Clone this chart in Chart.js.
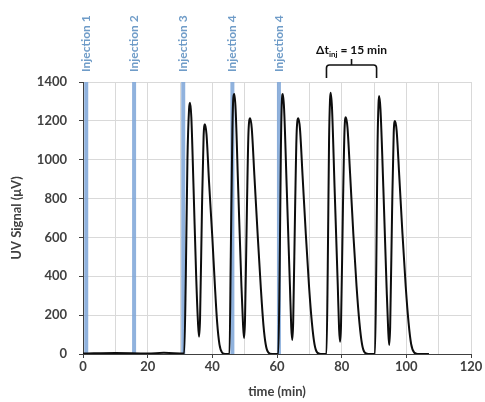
<!DOCTYPE html>
<html>
<head>
<meta charset="utf-8">
<script src="https://cdn.jsdelivr.net/npm/chart.js@4"></script>
<style>
    html, body { margin: 0; padding: 0; background: #fff; }
    #wrap { width: 485px; height: 402px; }
</style>
</head>
<body>
<div id="wrap"><canvas id="uvChart" width="485" height="402"></canvas></div>
<script>
// signal: time (min) and UV signal (uV)
const signalTime = [
    0, 10, 20, 25, 31.3,
    31.8, 32.3, 32.8, 33.1, 33.5, 34.2, 35.0, 35.6, 35.9, 36.2, 36.8, 37.3, 37.7, 38.2, 39.0, 40.0, 40.8, 41.5, 42.2, 43.0, 44.0,
    45.3, 45.7, 46.2, 46.5, 46.8, 47.2, 48.0, 49.0, 49.5, 49.8, 50.1, 50.7, 51.2, 51.7, 52.2, 53.0, 54.0, 55.0, 55.8, 56.5, 57.3, 58.5,
    60.4, 60.8, 61.2, 61.5, 61.8, 62.2, 63.0, 64.0, 64.4, 64.7, 65.0, 65.6, 66.1, 66.6, 67.1, 67.9, 68.9, 69.9, 70.8, 71.6, 72.4, 73.5,
    75.3, 75.7, 76.1, 76.4, 76.6, 77.0, 77.8, 78.8, 79.2, 79.5, 79.8, 80.4, 80.9, 81.3, 81.8, 82.6, 83.6, 84.6, 85.5, 86.3, 87.1, 88.2,
    90.3, 90.7, 91.1, 91.4, 91.6, 92.0, 92.9, 93.9, 94.4, 94.7, 95.0, 95.6, 96.1, 96.5, 97.0, 97.8, 98.8, 99.8, 100.7, 101.5, 102.4, 103.5, 107
];
const signalUV = [
    2, 5, 3, 6, 2,
    400, 1000, 1260, 1293, 1220, 850, 400, 150, 89, 180, 750, 1120, 1182, 1130, 880, 600, 350, 160, 50, 8, 0,
    0, 500, 1150, 1320, 1338, 1260, 850, 350, 150, 82, 170, 750, 1150, 1213, 1160, 920, 620, 340, 150, 50, 8, 0,
    0, 400, 1050, 1300, 1338, 1260, 860, 350, 140, 72, 160, 750, 1150, 1213, 1160, 920, 620, 350, 160, 50, 8, 0,
    0, 450, 1100, 1310, 1345, 1270, 860, 350, 130, 63, 150, 760, 1160, 1218, 1165, 930, 620, 350, 160, 50, 8, 0,
    0, 450, 1080, 1290, 1328, 1260, 850, 340, 120, 46, 140, 740, 1140, 1199, 1150, 920, 620, 350, 160, 50, 8, 0, 0
];

const injectionTimes = [1, 15.8, 31, 46.2, 60.6];
const injectionLabels = ['Injection 1', 'Injection 2', 'Injection 3', 'Injection 4', 'Injection 4'];

const bracketFrom = 75.3;
const bracketTo = 90.8;

const xTicks = [0, 20, 40, 60, 80, 100, 120];
const yTicks = [0, 200, 400, 600, 800, 1000, 1200, 1400];

const FONT = 'Lato, "Open Sans", sans-serif';

const overlayPlugin = {
    id: 'overlay',
    afterDatasetsDraw(chart) {
        const { ctx, chartArea } = chart;
        const xs = chart.scales.x;
        ctx.save();

        // injection labels, rotated
        ctx.fillStyle = '#6f9cc8';
        ctx.font = 'bold 12px ' + FONT;
        ctx.textAlign = 'left';
        ctx.textBaseline = 'middle';
        injectionTimes.forEach((t, i) => {
            ctx.save();
            ctx.translate(xs.getPixelForValue(t), chartArea.top - 10);
            ctx.rotate(-Math.PI / 2);
            ctx.fillText(injectionLabels[i], 0, 0);
            ctx.restore();
        });

        // bracket
        const x1 = xs.getPixelForValue(bracketFrom);
        const x2 = xs.getPixelForValue(bracketTo);
        const xm = (x1 + x2) / 2;
        const yb = chartArea.top - 4;
        const yt = chartArea.top - 17;
        const r = 3;
        ctx.strokeStyle = '#111';
        ctx.lineWidth = 1.6;
        ctx.beginPath();
        ctx.moveTo(x1, yb);
        ctx.lineTo(x1, yt + r);
        ctx.quadraticCurveTo(x1, yt, x1 + r, yt);
        ctx.lineTo(x2 - r, yt);
        ctx.quadraticCurveTo(x2, yt, x2, yt + r);
        ctx.lineTo(x2, yb);
        ctx.moveTo(xm, yt);
        ctx.lineTo(xm, yt - 6);
        ctx.stroke();

        // delta t text
        const main = 'bold 12px ' + FONT;
        const sub = 'bold 8px ' + FONT;
        const parts = [['\u0394t', main, 0], ['inj', sub, 3], [' = 15 min', main, 0]];
        let total = 0;
        parts.forEach(p => { ctx.font = p[1]; total += ctx.measureText(p[0]).width; });
        let px = xm - total / 2;
        const base = chartArea.top - 28;
        ctx.fillStyle = '#111';
        ctx.textAlign = 'left';
        ctx.textBaseline = 'alphabetic';
        parts.forEach(p => {
            ctx.font = p[1];
            ctx.fillText(p[0], px, base + p[2]);
            px += ctx.measureText(p[0]).width;
        });
        ctx.restore();
    }
};

document.addEventListener('DOMContentLoaded', function() {
    const injectionSets = injectionTimes.map(t => ({
        data: [{ x: t, y: 0 }, { x: t, y: yTicks[yTicks.length - 1] }],
        borderColor: 'rgba(125, 165, 215, 0.85)',
        borderWidth: 4,
        pointRadius: 0,
        order: 2
    }));

    const signalSet = {
        data: signalTime.map((t, i) => ({ x: t, y: signalUV[i] })),
        borderColor: '#0d0d0d',
        borderWidth: 2,
        pointRadius: 0,
        cubicInterpolationMode: 'monotone',
        order: 1
    };

    new Chart(document.getElementById('uvChart'), {
        type: 'line',
        data: { datasets: [signalSet, ...injectionSets] },
        plugins: [overlayPlugin],
        options: {
            responsive: false,
            animation: false,
            layout: { padding: { top: 82, right: 14, left: 0, bottom: 0 } },
            plugins: { legend: { display: false }, tooltip: { enabled: false } },
            scales: {
                x: {
                    type: 'linear',
                    min: xTicks[0],
                    max: xTicks[xTicks.length - 1],
                    afterFit: s => { s.height = 48; },
                    ticks: {
                        stepSize: 10,
                        padding: 1,
                        color: '#404040',
                        font: { family: FONT, size: 13, weight: 'bold' },
                        callback: v => xTicks.includes(v) ? String(v) : ''
                    },
                    grid: {
                        color: '#d9d9d9',
                        tickLength: 4,
                        tickColor: c => xTicks.includes(c.tick && c.tick.value) ? '#404040' : 'rgba(0,0,0,0)'
                    },
                    border: { color: '#404040', width: 1 },
                    title: {
                        display: true,
                        text: 'time (min)',
                        color: '#404040',
                        font: { family: FONT, size: 13, weight: 'bold' },
                        padding: { top: 0, bottom: 2 }
                    }
                },
                y: {
                    min: yTicks[0],
                    max: yTicks[yTicks.length - 1],
                    afterFit: s => { s.width = 83; },
                    ticks: {
                        stepSize: 200,
                        padding: 12,
                        color: '#404040',
                        font: { family: FONT, size: 13, weight: 'bold' },
                        callback: v => String(v)
                    },
                    grid: { color: '#d9d9d9', tickLength: 4, tickColor: '#404040' },
                    border: { color: '#404040', width: 1 },
                    title: {
                        display: true,
                        text: 'UV Signal (\u03bcV)',
                        color: '#404040',
                        font: { family: FONT, size: 13, weight: 'bold' },
                        padding: { top: 9, bottom: 0 }
                    }
                }
            }
        }
    });
});
</script>
</body>
</html>
